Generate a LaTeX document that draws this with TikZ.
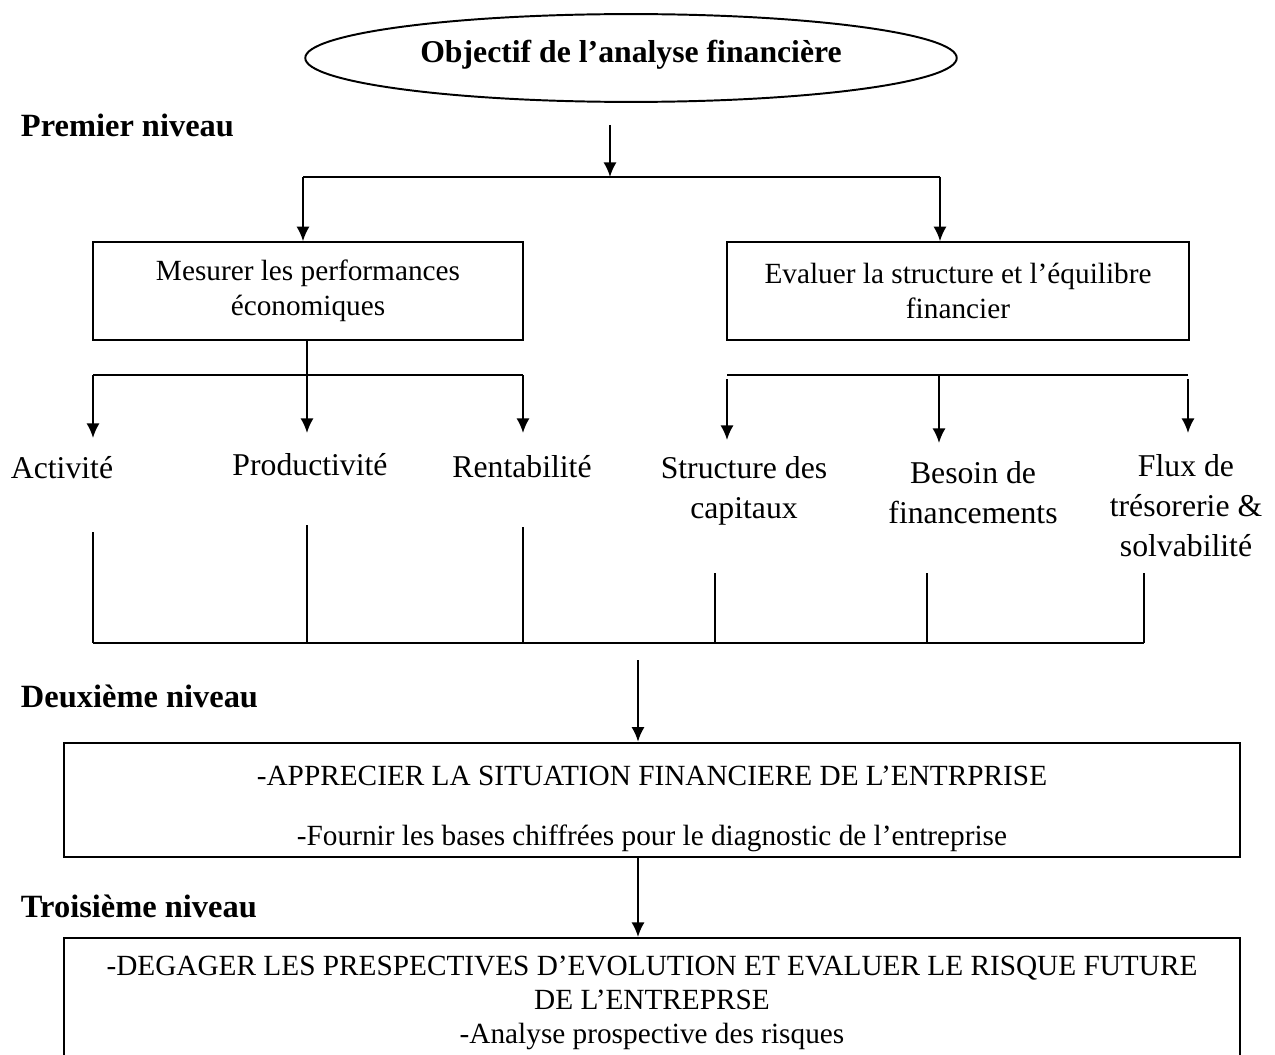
\documentclass[tikz,border=0pt]{standalone}
\usepackage{fontspec}
\setmainfont{Liberation Serif}
\usetikzlibrary{positioning,shapes.geometric,arrows.meta}

\begin{document}
\begin{tikzpicture}
            [
                x=0.0144cm, y=-0.0144cm,
                line width=0.8pt, >={Latex[length=6pt,width=5.4pt]},
                goal/.style={draw, ellipse, inner sep=1pt, minimum width=267pt, minimum height=36pt,
                    text height=8pt, text depth=4pt, font=\bfseries\fontsize{13}{15}\selectfont},
                level/.style={anchor=base west, inner sep=0pt, font=\bfseries\fontsize{13.3}{15}\selectfont},
                box/.style={draw, rectangle, align=center, inner sep=0pt, font=\fontsize{12}{14.5}\selectfont},
                item/.style={anchor=base, align=center, inner sep=0pt, font=\fontsize{13}{16.3}\selectfont}
            ]
            \useasboundingbox (0,0) rectangle (1275,1055);

            % objective and first level
            \node [goal] (goal) at (631,58) {Objectif de l'analyse financière};
            \node [level] (lvl1) at (20,137) {Premier niveau};
            \node [box, minimum width=176pt, minimum height=40pt] (perf) at (308,291)
                {Mesurer les performances\\économiques};
            \node [box, minimum width=189pt, minimum height=40pt] (equi) at (958,291)
                {Evaluer la structure et l'équilibre\\financier};

            \coordinate (in1) at (610,125);
            \coordinate (fork1) at (610,177);
            \coordinate (f1l) at (303,177);
            \coordinate (f1r) at (940,177);
            \draw [->] (in1) -- (fork1);
            \draw (f1l) -- (f1r);
            \draw [->] (f1l) -- (f1l |- perf.north);
            \draw [->] (f1r) -- (f1r |- equi.north);

            % criteria
            \node [item] (act) at (62,478) {Activité};
            \node [item] (prod) at (310,475) {Productivité};
            \node [item] (rent) at (522,477) {Rentabilité};
            \node [item] (struc) at (744,518) {Structure des\\capitaux};
            \node [item] (besoin) at (973,523) {Besoin de\\financements};
            \node [item] (flux) at (1186,556) {Flux de\\trésorerie \&\\solvabilité};

            \coordinate (f2) at (307,375);
            \coordinate (f2l) at (93,375);
            \coordinate (f2r) at (523,375);
            \draw (f2 |- perf.south) -- (f2);
            \draw (f2l) -- (f2r);
            \draw [->] (f2l) -- (93,438);
            \draw [->] (f2) -- (307,433);
            \draw [->] (f2r) -- (523,433);

            \coordinate (f3l) at (727,375);
            \coordinate (f3) at (939,375);
            \coordinate (f3r) at (1188,375);
            \draw (f3l) -- (f3r);
            \draw [->] (727,379) -- (727,440);
            \draw [->] (f3) -- (939,443);
            \draw [->] (1188,379) -- (1188,433);

            % collecting bar
            \coordinate (barl) at (93,643);
            \coordinate (barr) at (1144,643);
            \foreach \x/\t [count=\i] in {93/532, 307/525, 523/527, 715/573, 927/573, 1144/573}
                \coordinate (up\i) at (\x,\t);
            \foreach \i in {1,...,6}
                \draw (up\i) -- (up\i |- barl);
            \draw (barl) -- (barr);

            % second and third level
            \node [level] (lvl2) at (20,707) {Deuxième niveau};
            \node [box, minimum width=482pt, minimum height=47pt] (appr) at (652,800)
                {\rule{0pt}{15pt}-APPRECIER LA SITUATION FINANCIERE DE L'ENTRPRISE\\[10pt]
                 -Fournir les bases chiffrées pour le diagnostic de l'entreprise};
            \node [level] (lvl3) at (20,917) {Troisième niveau};
            \node [box, minimum width=482pt, minimum height=53.3pt, font=\fontsize{12}{14}\selectfont] (prosp) at (652,1003)
                {-DEGAGER LES PRESPECTIVES D'EVOLUTION ET EVALUER LE RISQUE FUTURE\\
                 DE L'ENTREPRSE\\
                 -Analyse prospective des risques};

            \coordinate (in2) at (638,660);
            \draw [->] (in2) -- (in2 |- appr.north);
            \draw [->] (appr.south -| in2) -- (in2 |- prosp.north);
        \end{tikzpicture}
\end{document}
